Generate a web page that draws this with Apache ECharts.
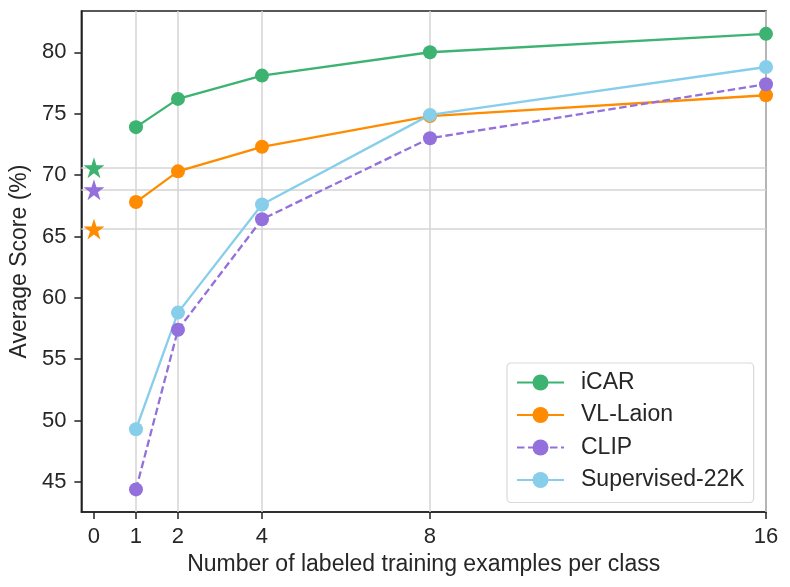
<!DOCTYPE html>
<html>
<head>
<meta charset="utf-8">
<script src="https://cdn.jsdelivr.net/npm/echarts@6/dist/echarts.min.js"></script>
<style>
    html, body { margin: 0; padding: 0; background: #fff; }
    #chart { width: 790px; height: 587px; }
</style>
</head>
<body>
<div id="chart"></div>
<script>
/*数据*/
var shots = [1, 2, 4, 8, 16];
var xTicks = [0, 1, 2, 4, 8, 16];
var yTicks = [45, 50, 55, 60, 65, 70, 75, 80];
var icarScores = [73.9, 76.2, 78.1, 80.0, 81.5];
var vlLaionScores = [67.8, 70.3, 72.3, 74.8, 76.5];
var clipScores = [44.4, 57.4, 66.4, 73.0, 77.4];
var supervisedScores = [49.3, 58.8, 67.6, 74.9, 78.8];
/*zero-shot 星标*/
var zeroShotModels = ['iCAR', 'CLIP', 'VL-Laion'];
var zeroShotScores = [70.6, 68.8, 65.6];

var colors = {
    'iCAR': '#3cb371',
    'VL-Laion': '#ff8c00',
    'CLIP': '#9370db',
    'Supervised-22K': '#87ceeb'
};
var font = 'Liberation Sans, Arial, sans-serif';
var textColor = '#262626';
var gridColor = '#d4d4d4';
var starPath = 'path://M50,0 L61.2,34.5 L97.6,34.5 L68.2,55.9 L79.4,90.5 L50,69.1 L20.6,90.5 L31.8,55.9 L2.4,34.5 L38.8,34.5 Z';

function pairs(xs, ys) {
    var out = [];
    for (var i = 0; i < xs.length; i++) {
        out.push([xs[i], ys[i]]);
    }
    return out;
}

function lineSeries(name, values, dashed) {
    return {
        name: name,
        type: 'line',
        data: pairs(shots, values),
        symbol: 'circle',
        symbolSize: 14,
        z: 5,
        color: colors[name],
        lineStyle: { width: 2.3, color: colors[name], type: dashed ? [7.5, 3.5] : 'solid' },
        itemStyle: { color: colors[name], opacity: 1 },
        emphasis: { disabled: true }
    };
}

var series = [
    /*网格线*/
    {
        name: 'grid',
        type: 'line',
        data: [],
        z: 1,
        markLine: {
            silent: true,
            symbol: 'none',
            label: { show: false },
            lineStyle: { color: gridColor, width: 1.5, type: 'solid' },
            data: shots.map(function (s) { return { xAxis: s }; })
                .concat(zeroShotScores.map(function (v) { return { yAxis: v }; }))
        }
    },
    lineSeries('iCAR', icarScores, false),
    lineSeries('VL-Laion', vlLaionScores, false),
    lineSeries('CLIP', clipScores, true),
    lineSeries('Supervised-22K', supervisedScores, false)
];

for (var i = 0; i < zeroShotModels.length; i++) {
    series.push({
        name: zeroShotModels[i] + ' zero-shot',
        type: 'scatter',
        data: [[0, zeroShotScores[i]]],
        symbol: starPath,
        symbolSize: 21,
        z: 6,
        itemStyle: { color: colors[zeroShotModels[i]], opacity: 1 },
        emphasis: { disabled: true }
    });
}

var chart = echarts.init(document.getElementById('chart'), null, { renderer: 'canvas' });
chart.setOption({
    animation: false,
    backgroundColor: '#fff',
    textStyle: { fontFamily: font, color: textColor },
    grid: {
        left: 79, right: 24, top: 11, bottom: 75,
        show: true, borderColor: '#222', borderWidth: 1.5
    },
    legend: {
        data: ['iCAR', 'VL-Laion', 'CLIP', 'Supervised-22K'],
        orient: 'vertical',
        left: 507, top: 363,
        padding: [8, 9, 11, 9],
        itemWidth: 47, itemHeight: 20, itemGap: 9.5,
        backgroundColor: '#fff',
        borderColor: '#d9d9d9', borderWidth: 1.2, borderRadius: 4,
        textStyle: { fontFamily: font, fontSize: 23, lineHeight: 23, color: textColor, padding: [0, 0, 0, 12] }
    },
    xAxis: {
        type: 'value',
        min: -0.3, max: 16,
        name: 'Number of labeled training examples per class',
        nameLocation: 'middle', nameGap: 41,
        nameTextStyle: { fontFamily: font, fontSize: 23, color: textColor },
        axisLine: { show: true, onZero: false, lineStyle: { color: '#222', width: 1.5 } },
        axisTick: { show: true, length: 7, customValues: xTicks, lineStyle: { color: '#222', width: 1.5 } },
        axisLabel: { customValues: xTicks, margin: 14, fontFamily: font, fontSize: 22, color: textColor },
        splitLine: { show: false }
    },
    yAxis: {
        type: 'value',
        min: 42.56, max: 83.36,
        name: 'Average Score (%)',
        nameLocation: 'middle', nameGap: 46,
        nameTextStyle: { fontFamily: font, fontSize: 23, color: textColor },
        axisLine: { show: true, onZero: false, lineStyle: { color: '#222', width: 1.5 } },
        axisTick: { show: true, length: 7, customValues: yTicks, lineStyle: { color: '#222', width: 1.5 } },
        axisLabel: { customValues: yTicks, margin: 15, fontFamily: font, fontSize: 22, color: textColor },
        splitLine: { show: false }
    },
    series: series
});
</script>
</body>
</html>
